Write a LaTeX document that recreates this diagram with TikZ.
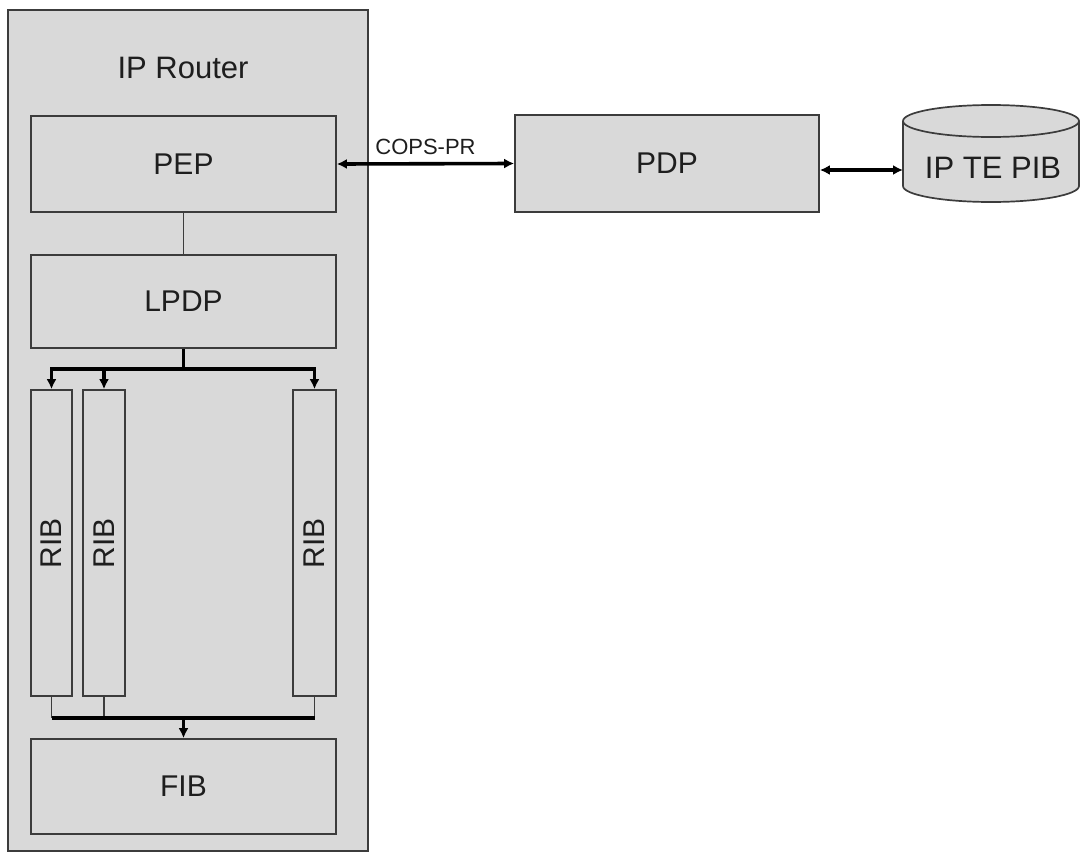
\documentclass[tikz,border=0pt]{standalone}
\usepackage{fontspec}
\setmainfont{Liberation Sans}
\usetikzlibrary{arrows.meta}
\definecolor{boxfill}{HTML}{D9D9D9}
\definecolor{edge}{HTML}{3C3C3C}
\definecolor{txt}{HTML}{1E1E1E}
\tikzset{
  blk/.style={draw=edge, line width=1.7pt, fill=boxfill, inner sep=0pt, text=txt,
              font=\fontsize{30}{34}\selectfont},
  thinline/.style={draw=edge, line width=1.6pt},
  thickline/.style={draw=black, line width=3.6pt},
  arr/.style={thickline, -{Latex[length=10pt,width=10pt]}},
  darr/.style={thickline, {Latex[length=10pt,width=10pt]}-{Latex[length=10pt,width=10pt]}},
}
\begin{document}
\begin{tikzpicture}[x=1pt,y=-1pt]
\useasboundingbox (0,0) rectangle (1081,854);
\fill[white] (0,0) rectangle (1081,854);
% router frame
\draw[blk] (8,10) rectangle (368,851);
\node[text=txt, font=\fontsize{31}{34}\selectfont] (title) at (183,68) {IP Router};
% boxes
\node[blk, minimum width=305pt, minimum height=96pt] (PEP) at (183.5,164) {PEP};
\node[blk, minimum width=305pt, minimum height=93pt] (LPDP) at (183.5,301.5) {LPDP};
\node[blk, minimum width=305pt, minimum height=95pt] (FIB) at (183.5,786.5) {FIB};
\node[blk, minimum width=41pt, minimum height=306pt] (RIBa) at (51.5,543) {\rotatebox{90}{RIB}};
\node[blk, minimum width=42pt, minimum height=306pt] (RIBb) at (104,543) {\rotatebox{90}{RIB}};
\node[blk, minimum width=43pt, minimum height=306pt] (RIBc) at (314.5,543) {\rotatebox{90}{RIB}};
\node[blk, minimum width=304pt, minimum height=97pt] (PDP) at (667,163.5) {PDP};
% database cylinder
\fill[boxfill] (903,121) -- (903,186) arc[start angle=180, end angle=0, x radius=88, y radius=16] -- (1079,121) arc[start angle=0, end angle=-180, x radius=88, y radius=16] -- cycle;
\draw[edge, line width=1.7pt] (903,121) -- (903,186) arc[start angle=180, end angle=0, x radius=88, y radius=16] -- (1079,121);
\draw[edge, line width=1.7pt] (991,121) ellipse[x radius=88, y radius=16];
\node[text=txt, font=\fontsize{31}{34}\selectfont] (PIB) at (993,168) {IP TE PIB};
\coordinate (dbW) at (903,170);
% connectors
\draw[thinline] (PEP.south) -- (LPDP.north);
\coordinate (split) at (183.5,369);
\draw[thickline] (LPDP.south) -- (split);
\draw[arr] (split) -| (RIBa.north);
\draw[arr] (split) -| (RIBb.north);
\draw[arr] (split) -| (RIBc.north);
\coordinate (merge) at (183.5,718);
\coordinate (mA) at (RIBa.south |- merge);
\coordinate (mB) at (RIBb.south |- merge);
\coordinate (mC) at (RIBc.south |- merge);
\draw[thinline] (RIBa.south) -- (mA);
\draw[thinline] (RIBb.south) -- (mB);
\draw[thinline] (RIBc.south) -- (mC);
\draw[thickline] (mA) -- (mC);
\draw[arr] (merge) -- (FIB.north);
\draw[darr] (PEP.east) -- node[above=4pt, text=txt, font=\fontsize{22}{24}\selectfont] (cops) {COPS-PR} (PDP.west);
\draw[darr] (PDP.east |- dbW) -- (dbW);
\end{tikzpicture}
\end{document}
